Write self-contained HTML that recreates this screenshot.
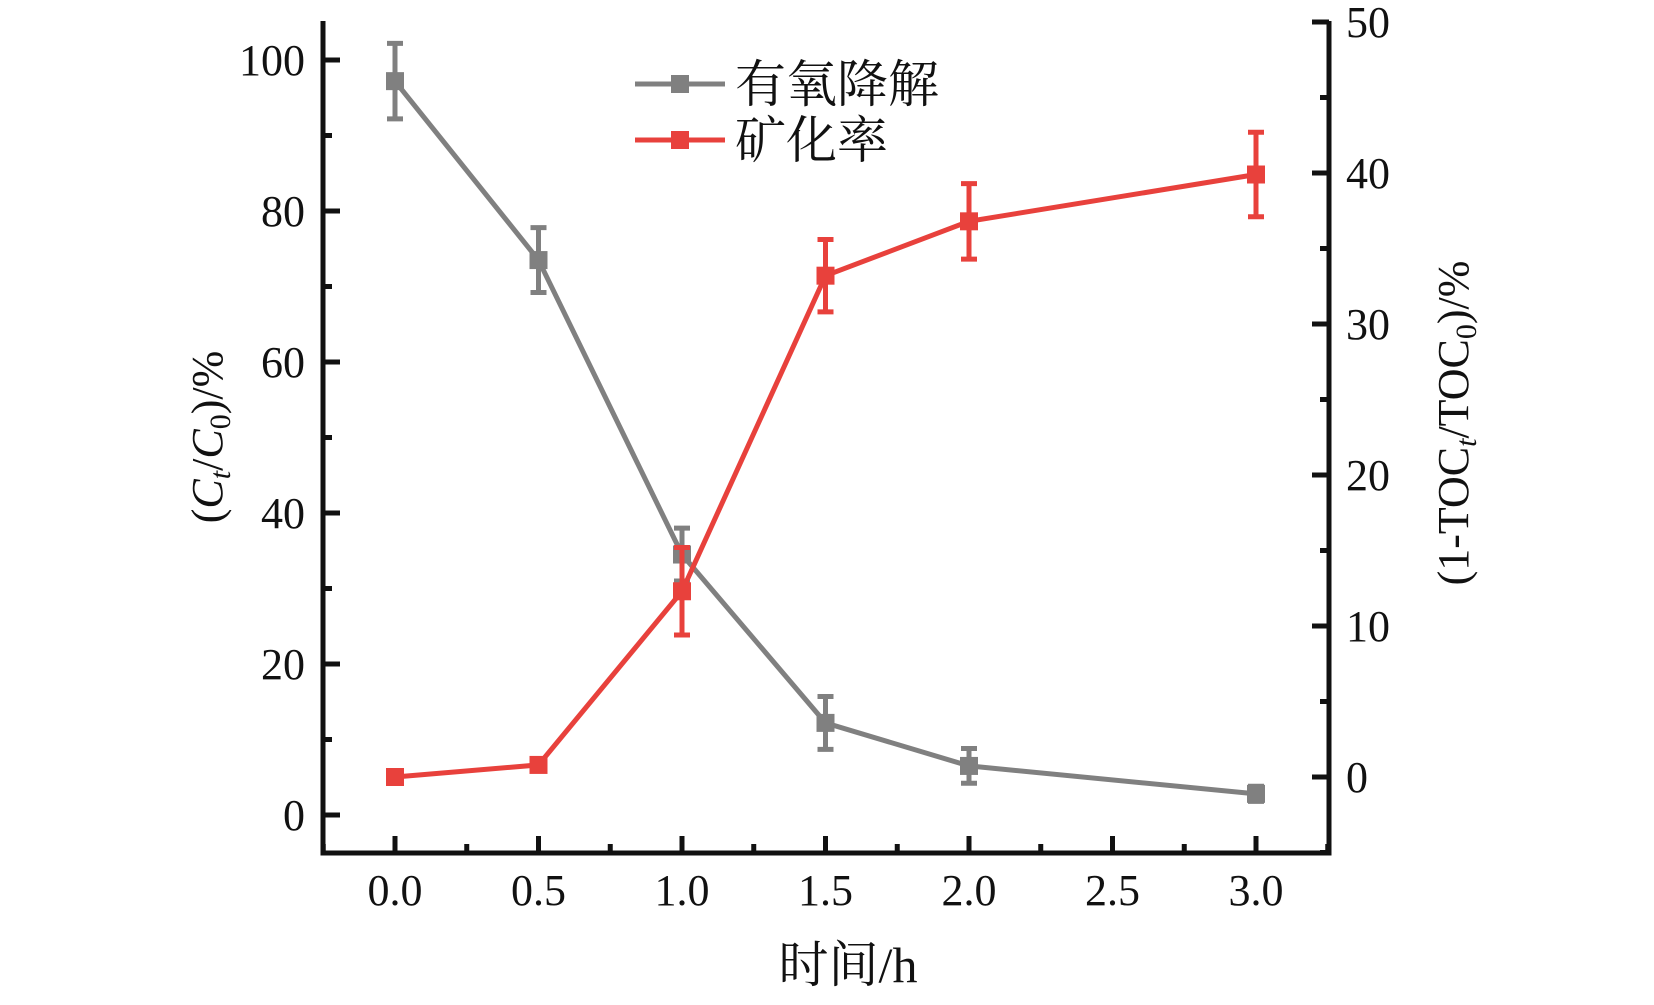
<!DOCTYPE html>
<html><head><meta charset="utf-8"><style>
body{margin:0;background:#fff}
svg text{font-family:"Liberation Serif","Noto Serif CJK SC",serif;fill:#111}
</style></head><body>
<svg id="chart" width="1654" height="1000" viewBox="0 0 1654 1000">
<g id="axes"></g><g id="series"></g>
<g>
<line x1="635" y1="84" x2="725" y2="84" stroke="#808080" stroke-width="5"/>
<rect x="671" y="75" width="18" height="18" fill="#808080"/>
<text x="735" y="102" font-size="51">有氧降解</text>
<line x1="635" y1="140" x2="725" y2="140" stroke="#e8413c" stroke-width="5"/>
<rect x="671" y="131" width="18" height="18" fill="#e8413c"/>
<text x="735" y="158" font-size="51">矿化率</text>
</g>
<text x="848" y="982" font-size="50" text-anchor="middle">时间/h</text>
<text transform="translate(222,437) rotate(-90)" font-size="44" text-anchor="middle">(<tspan font-style="italic">C</tspan><tspan font-style="italic" font-size="30" dy="8">t</tspan><tspan dy="-8">/</tspan><tspan font-style="italic">C</tspan><tspan font-size="30" dy="8">0</tspan><tspan dy="-8">)/%</tspan></text>
<text transform="translate(1468,423) rotate(-90)" font-size="44" text-anchor="middle">(1-TOC<tspan font-style="italic" font-size="30" dy="8">t</tspan><tspan dy="-8">/TOC</tspan><tspan font-size="30" dy="8">0</tspan><tspan dy="-8">)/%</tspan></text>
</svg>
<script>
const xValues=[0,0.5,1.0,1.5,2.0,3.0];
const aerobic=[97.2,73.5,34.5,12.2,6.5,2.8];
const aerobicErr=[5,4.3,3.5,3.5,2.3,1];
const mineral=[0,0.8,12.3,33.2,36.8,39.9];
const mineralErr=[0,0.3,2.9,2.4,2.5,2.8];
const xTicks=[0,0.5,1.0,1.5,2.0,2.5,3.0];
const xTickLabels=["0.0","0.5","1.0","1.5","2.0","2.5","3.0"];
const yLeftTicks=[0,20,40,60,80,100];
const yRightTicks=[0,10,20,30,40,50];
const NS="http://www.w3.org/2000/svg";
const L=323,R=1329,T=21,B=853;
const xs=v=>395+v*287;
const yl=v=>815-v*7.55;
const yr=v=>777-v*15.1;
function mk(t,a,p){const e=document.createElementNS(NS,t);for(const k in a)e.setAttribute(k,a[k]);p.appendChild(e);return e;}
const ax=document.getElementById('axes');
const frame=mk('path',{d:`M${L},${T} L${L},${B} L${R},${B} L${R},${T}`,fill:'none',stroke:'#111','stroke-width':5},ax);


for(let v=-0.25;v<=3.25001;v+=0.25){const x=xs(v);const major=Math.abs(v*2-Math.round(v*2))<1e-6;
 mk('line',{x1:x,y1:B,x2:x,y2:B-(major?17:9),stroke:'#111','stroke-width':5},ax);}
xTicks.forEach((v,i)=>{const t=mk('text',{x:xs(v),y:B+52,'font-size':44,'text-anchor':'middle'},ax);t.textContent=xTickLabels[i];

});
for(let v=0;v<=100;v+=10){const y=yl(v);mk('line',{x1:L,y1:y,x2:L+(v%20==0?17:9),y2:y,stroke:'#111','stroke-width':5},ax);}
yLeftTicks.forEach(v=>{const t=mk('text',{x:305,y:yl(v)+15,'font-size':44,'text-anchor':'end'},ax);t.textContent=v;

});
for(let v=-5;v<=50;v+=5){const y=yr(v);mk('line',{x1:R,y1:y,x2:R-(v%10==0?17:9),y2:y,stroke:'#111','stroke-width':5},ax);}
yRightTicks.forEach(v=>{const t=mk('text',{x:1346,y:yr(v)+15,'font-size':44},ax);t.textContent=v;

});
const sg=document.getElementById('series');
function series(vals,errs,ys,color,name){
 const g=mk('g',{},sg);
 
 
 const pl=mk('polyline',{points:vals.map((v,i)=>xs(xValues[i])+','+ys(v)).join(' '),fill:'none',stroke:color,'stroke-width':5},g);
 
 
 vals.forEach((v,i)=>{const x=xs(xValues[i]);
  if(errs[i]>0.5){const y1=ys(v+errs[i]),y2=ys(v-errs[i]);
   mk('path',{d:`M${x},${y1}V${y2}M${x-8},${y1}H${x+8}M${x-8},${y2}H${x+8}`,stroke:color,'stroke-width':5,fill:'none'},g);}
  const r=mk('rect',{x:x-9,y:ys(v)-9,width:18,height:18,fill:color},g);
  
  });
}
series(aerobic,aerobicErr,yl,'#808080','aerobic');
series(mineral,mineralErr,yr,'#e8413c','mineral');
</script>
</body></html>
